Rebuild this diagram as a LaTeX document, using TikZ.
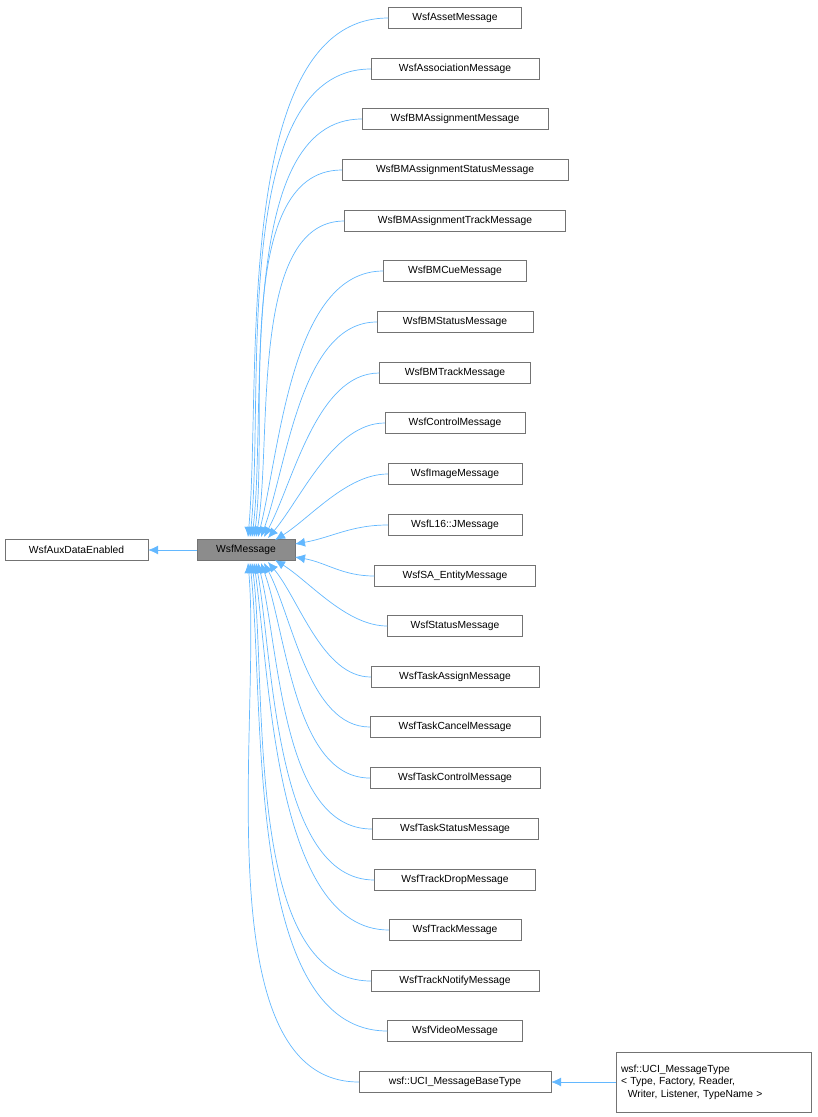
\documentclass[tikz,border=0pt]{standalone}
\usepackage{fontspec}
\setmainfont{Liberation Sans}
\usetikzlibrary{arrows.meta}
\begin{document}
\begin{tikzpicture}[x=1pt,y=-1pt,
  box/.style={draw=black!55,fill=white,minimum height=21pt,inner sep=2pt,font=\fontsize{10.3}{12.5}\selectfont},
  edge/.style={draw={rgb,255:red,99;green,184;blue,255},line width=0.7pt,-{Latex[length=10pt,width=9pt]}}]
\useasboundingbox (0,0) rectangle (817,1117);
\node[box,minimum width=143pt] (aux) at (76.5,550) {WsfAuxDataEnabled};
\node[box,minimum width=98pt,fill=black!45] (msg) at (246,550) {WsfMessage};
\draw[edge] (msg) -- (aux);
\foreach \n/\t/\y/\w/\tx/\ty/\a/\l in {
 a/WsfAssetMessage/18/133/248/537/85/0.75,
 b/WsfAssociationMessage/69/168/250/537/84/0.75,
 c/WsfBMAssignmentMessage/119/186/252/537/83/0.75,
 d/WsfBMAssignmentStatusMessage/170/226/254/537/82/0.75,
 e/WsfBMAssignmentTrackMessage/221/221/256/537/80/0.75,
 f/WsfBMCueMessage/271/143/258/537/76/0.8,
 g/WsfBMStatusMessage/322/156/261/537/70/0.8,
 h/WsfBMTrackMessage/373/151/264/537/62/0.8,
 i/WsfControlMessage/423/140/268/538/50/0.8,
 j/WsfImageMessage/474/134/275/540/32/0.8,
 k/WsfL16::JMessage/525/134/295/544/10/1,
 l/WsfSA\_EntityMessage/576/161/295/557/-10/1,
 m/WsfStatusMessage/626/135/275/560/-32/0.8,
 n/WsfTaskAssignMessage/677/168/268/562/-50/0.8,
 o/WsfTaskCancelMessage/727/170/264/563/-62/0.8,
 p/WsfTaskControlMessage/778/170/261/563/-70/0.8,
 q/WsfTaskStatusMessage/829/166/258/563/-76/0.8,
 r/WsfTrackDropMessage/880/161/256/563/-80/0.75,
 s/WsfTrackMessage/930/132/254/563/-82/0.75,
 t/WsfTrackNotifyMessage/981/168/252/563/-83/0.75,
 u/WsfVideoMessage/1031/135/250/563/-84/0.75,
 v/wsf::UCI\_MessageBaseType/1082/192/248/563/-85/0.75}
{
 \node[box,minimum width=\w pt] (\n) at (455,\y) {\t};
 \coordinate (e\n) at (\tx,\ty);
 \draw[edge] (\n.west) to[out=180,in=\a,looseness=\l] (e\n);
}
\node[box,text width=185pt,minimum height=60pt,align=left,inner sep=5pt] (uci) at (713.5,1082)
 {wsf::UCI\_MessageType\\\textless{} Type, Factory, Reader,\\\ \ Writer, Listener, TypeName \textgreater};
\draw[edge] (uci) -- (v);
\end{tikzpicture}
\end{document}
